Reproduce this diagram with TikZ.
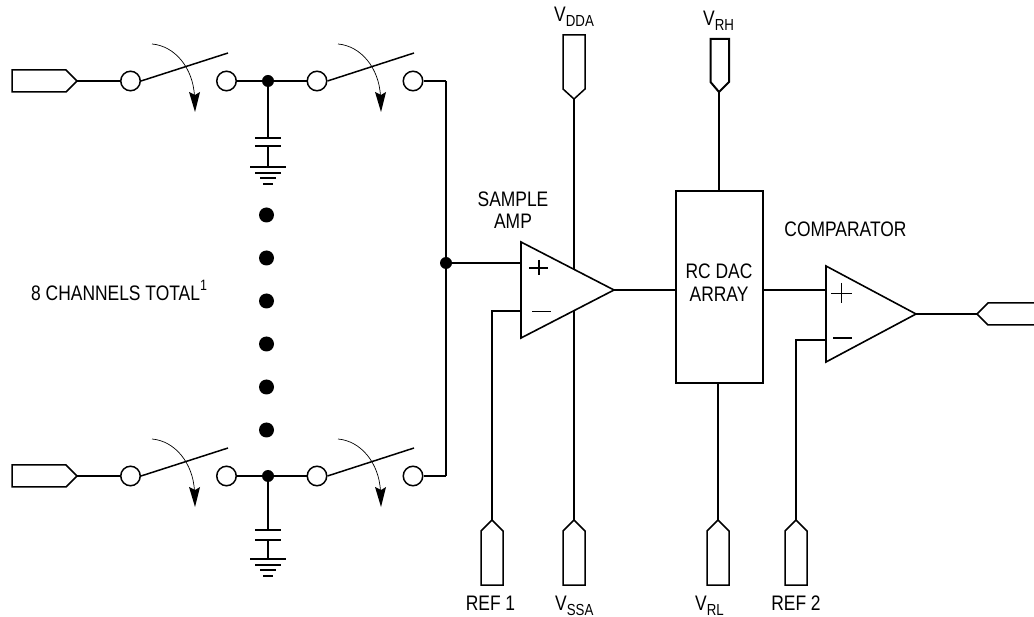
\documentclass[tikz,border=0pt]{standalone}
\usepackage{fontspec}
\setmainfont[FakeStretch=0.83]{Liberation Sans}
\newcommand{\lbl}{\fontsize{21}{24}\selectfont}
\newcommand{\subs}[1]{\raisebox{-5pt}{\fontsize{16}{18}\selectfont #1}}
\newcommand{\sups}[1]{\raisebox{10pt}{\fontsize{15}{17}\selectfont #1}}
\tikzset{
  wire/.style={line width=1.5pt,black},
  contact/.style={circle,draw,line width=1.5pt,fill=white,minimum size=19.5pt,inner sep=0pt},
  jdot/.style={circle,fill=black,minimum size=12pt,inner sep=0pt},
  bigdot/.style={circle,fill=black,minimum size=15pt,inner sep=0pt},
  txt/.style={font=\lbl,inner sep=0pt,anchor=base},
  txtl/.style={font=\lbl,inner sep=0pt,anchor=base west},
  blockbox/.style={rectangle,draw,line width=1.5pt,inner sep=0pt,minimum width=87pt,minimum height=192pt},
  portline/.style={line width=1.5pt,line join=miter,fill=white},
  thinarc/.style={line width=0.7pt},
  ampshape/.style={line width=1.6pt,line join=miter,fill=white},
  sign/.style={line width=1.3pt}
}
\begin{document}
\begin{tikzpicture}[x=1pt,y=-1pt]
\useasboundingbox (0,0) rectangle (1034,617);

% --- channel rows
\foreach \r/\y/\pa/\pb in {t/81/138/146,b/476/530/540}{
  \coordinate (in\r) at (77,\y);
  \draw[portline] (in\r) -- (66,\y+11) -- (12,\y+11) -- (12,\y-11) -- (66,\y-11) -- cycle;
  \node[contact] (a\r) at (130.5,\y) {};
  \node[contact] (c\r) at (226.5,\y) {};
  \node[jdot] (j\r) at (268,\y) {};
  \node[contact] (d\r) at (317,\y) {};
  \node[contact] (e\r) at (413,\y) {};
  \coordinate (sa\r) at (228,\y-28);
  \coordinate (sb\r) at (414,\y-28);
  \coordinate (bus\r) at (446,\y);
  \draw[wire] (in\r) -- (a\r);
  \draw[wire] (a\r.east) -- (sa\r);
  \draw[wire] (c\r) -- (j\r);
  \draw[wire] (j\r) -- (d\r);
  \draw[wire] (d\r.east) -- (sb\r);
  \draw[wire] (e\r) -- (bus\r);
  % capacitor and ground
  \coordinate (pa\r) at (268,\pa);
  \coordinate (pb\r) at (268,\pb);
  \coordinate (g\r) at (268,\pb+\ifnum\pb=146 21\else 19\fi);
  \draw[wire] (j\r) -- (pa\r);
  \draw[wire] (pb\r) -- (g\r);
  \draw[wire] ([xshift=-13pt]pa\r) -- ([xshift=13pt]pa\r);
  \draw[wire] ([xshift=-13pt]pb\r) -- ([xshift=13pt]pb\r);
  \draw[wire] ([xshift=-18pt]g\r) -- ([xshift=18pt]g\r);
  \draw[wire] ([xshift=-13pt,yshift=-6pt]g\r) -- ([xshift=13pt,yshift=-6pt]g\r);
  \draw[wire] ([xshift=-8pt,yshift=-11pt]g\r) -- ([xshift=8pt,yshift=-11pt]g\r);
  \draw[wire] ([xshift=-5pt,yshift=-17pt]g\r) -- ([xshift=5pt,yshift=-17pt]g\r);
  % motion arrows
  \foreach \dx in {0,186}{
    \draw[thinarc] (152+\dx,\y-37) .. controls (175+\dx,\y-35) and (193+\dx,\y-13) .. (194.5+\dx,\y+15);
    \fill (195+\dx,\y+31) -- (189+\dx,\y+11) -- (195+\dx,\y+14) -- (200+\dx,\y+11) -- cycle;
  }
}

% --- dots between channels
\foreach \y in {215,258,301,344,387,430}{
  \node[bigdot] (dot\y) at (266.5,\y) {};
}

% --- bus
\node[jdot] (jbus) at (446,263) {};
\draw[wire] (bust) -- (busb);

% --- supply lines behind the amplifier
\coordinate (vdda) at (574,99);
\coordinate (vssa) at (574,520);
\coordinate (ref1) at (492,520);
\coordinate (ref2) at (796,520);
\coordinate (vrh) at (719,92);
\coordinate (vrl) at (718,520);
\draw[wire] (vdda) -- (vssa);

% --- sample amp
\coordinate (a1) at (521,242);
\coordinate (a2) at (521,338);
\coordinate (a3) at (614,290);
\coordinate (aplus) at (521,263);
\coordinate (aminus) at (521,311);
\draw[ampshape] (a1) -- (a3) -- (a2) -- cycle;
\draw[sign] (529,268) -- (548,268) (539,260) -- (539,275);
\draw[sign] (532,311.5) -- (551,311.5);
\draw[wire] (jbus) -- (aplus);
\draw[wire] (ref1) |- (aminus);

% --- DAC
\node[blockbox] (dac) at (719.5,287) {};
\draw[wire] (a3) -- (a3 -| dac.west);
\draw[wire] (vrh) -- (vrh |- dac.north);
\draw[wire] (vrl) -- (vrl |- dac.south);

% --- comparator
\coordinate (c1) at (826,266);
\coordinate (c2) at (826,362);
\coordinate (c3) at (916,314);
\coordinate (cplus) at (826,290);
\coordinate (cminus) at (826,340);
\coordinate (out) at (977,314);
\draw[ampshape] (c1) -- (c3) -- (c2) -- cycle;
\draw[sign] (831,293.5) -- (852,293.5) (841.5,283) -- (841.5,303);
\draw[sign] (833,338) -- (852,338);
\draw[wire] (cplus -| dac.east) -- (cplus);
\draw[wire] (ref2) |- (cminus);
\draw[wire] (c3) -- (out);
\draw[portline,fill=none] (1034,303) -- (988,303) -- (out) -- (988,325) -- (1034,325);

% --- vertical ports
\draw[portline] (vdda) -- (585,89) -- (585,35) -- (563,35) -- (563,89) -- cycle;
\draw[portline,line width=2pt] (vrh) -- (729,82) -- (729,39) -- (710.5,39) -- (710.5,82) -- cycle;
\foreach \c/\x in {ref1/492,vssa/574,vrl/718,ref2/796}{
  \draw[portline] (\c) -- (\x+11,531) -- (\x+11,585) -- (\x-11,585) -- (\x-11,531) -- cycle;
}

% --- labels
\node[txtl] (lvdda) at (554,22) {V\subs{DDA}};
\node[txtl] (lvrh) at (703,26) {V\subs{RH}};
\node[txt] (lsample) at (513,207) {SAMPLE};
\node[txt] (lamp) at (513,229) {AMP};
\node[txt] (lcomp) at (845.5,237) {COMPARATOR};
\node[txt] (lrc) at (719,279) {RC DAC};
\node[txt] (larr) at (719,301.5) {ARRAY};
\node[txtl] (lchan) at (31,301) {8 CHANNELS TOTAL\sups{1}};
\node[txt] (lref1) at (490.5,610) {REF 1};
\node[txtl] (lvssa) at (555,610) {V\subs{SSA}};
\node[txtl] (lvrl) at (695,610) {V\subs{RL}};
\node[txt] (lref2) at (796,610) {REF 2};
\end{tikzpicture}
\end{document}
